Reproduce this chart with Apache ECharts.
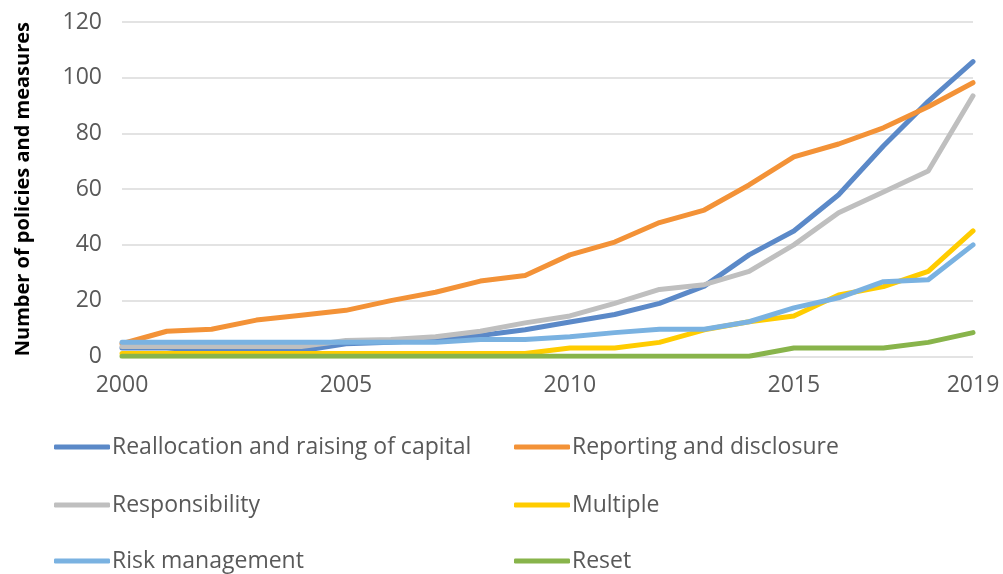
<!DOCTYPE html>
<html>
<head>
<meta charset="utf-8">
<script src="https://cdn.jsdelivr.net/npm/echarts@6/dist/echarts.min.js"></script>
<style>
html,body{margin:0;padding:0;background:#fff;}
#chart{width:1003px;height:574px;}
</style>
</head>
<body>
<div id="chart"></div>
<script>
var years = ['2000','2001','2002','2003','2004','2005','2006','2007','2008','2009','2010','2011','2012','2013','2014','2015','2016','2017','2018','2019'];
var shownYearLabels = ['2000','2005','2010','2015','2019'];
var yTicks = [0, 20, 40, 60, 80, 100, 120];

var reallocation = [3, 3, 2, 2, 2, 4.5, 5, 6, 7.5, 9.5, 12.3, 15, 19, 25.2, 36.4, 45, 58, 75.5, 91.5, 105.8];
var reporting    = [4.5, 9, 9.7, 13, 14.7, 16.5, 20, 23, 27, 29, 36.4, 41, 48, 52.5, 61.5, 71.6, 76.2, 82, 89.6, 98.2];
var responsibility = [3.5, 3.5, 3.5, 3.5, 3.5, 5.7, 6, 7, 9, 12, 14.5, 19, 24, 25.7, 30.5, 40, 51.5, 59, 66.5, 93.5];
var multiple     = [1, 1, 1, 1, 1, 1, 1, 1, 1, 1, 3, 3, 5, 9.5, 12.4, 14.5, 22, 25, 30.5, 45];
var riskMgmt     = [5, 5, 5, 5, 5, 5, 5, 5, 6, 6, 7, 8.5, 9.7, 9.7, 12.4, 17.4, 21, 26.8, 27.5, 40];
var reset        = [0, 0, 0, 0, 0, 0, 0, 0, 0, 0, 0, 0, 0, 0, 0, 3, 3, 3, 5, 8.5];

var seriesNames = ['Reallocation and raising of capital','Reporting and disclosure','Responsibility','Multiple','Risk management','Reset'];
var seriesData = [reallocation, reporting, responsibility, multiple, riskMgmt, reset];
var colors = ['#5b89c8','#f39237','#bfbfbf','#ffcc00','#7ab2e1','#88b44b'];

var legendPos = [[54, 447],[514, 447],[54, 505],[514, 505],[54, 561],[514, 561]];

var chart = echarts.init(document.getElementById('chart'), null, {renderer:'canvas'});

var series = seriesNames.map(function(n, i){
  return {
    name: n, type: 'line', data: seriesData[i],
    symbol: 'none', showSymbol: false,
    lineStyle: {color: colors[i], width: 5, join: 'round', cap: 'round'},
    itemStyle: {color: colors[i]},
    animation: false
  };
});

var legends = seriesNames.map(function(n, i){
  return {
    data: [n],
    left: legendPos[i][0],
    top: legendPos[i][1] - 15,
    padding: 0,
    icon: 'roundRect',
    itemWidth: 56,
    itemHeight: 5,
    itemGap: 0,
    itemStyle: {color: colors[i], borderWidth: 0},
    textStyle: {color: '#595959', fontSize: 23, fontFamily: 'Open Sans', lineHeight: 30, padding: [0,0,0,-3]}
  };
});

chart.setOption({
  animation: false,
  color: colors,
  grid: {left: 122, right: 30, top: 22, bottom: 217.7, containLabel: false},
  legend: legends,
  xAxis: {
    type: 'category', data: years, boundaryGap: false,
    axisLine: {show: false}, axisTick: {show: false},
    axisLabel: {
      color: '#595959', fontSize: 23, fontFamily: 'Open Sans', margin: 18,
      interval: function(idx, val){ return shownYearLabels.indexOf(val) >= 0; }
    },
    splitLine: {show: false}
  },
  yAxis: {
    type: 'value', min: yTicks[0], max: yTicks[yTicks.length-1], interval: 20,
    name: 'Number of policies and measures', nameLocation: 'middle', nameRotate: 90, nameGap: 89,
    nameTextStyle: {color: '#000', fontSize: 20, fontWeight: 'bold', fontFamily: 'Open Sans'},
    axisLine: {show: false}, axisTick: {show: false},
    axisLabel: {color: '#595959', fontSize: 23, fontFamily: 'Open Sans', margin: 20},
    splitLine: {show: true, lineStyle: {color: '#e3e3e3', width: 2}}
  },
  series: series
});
</script>
</body>
</html>
